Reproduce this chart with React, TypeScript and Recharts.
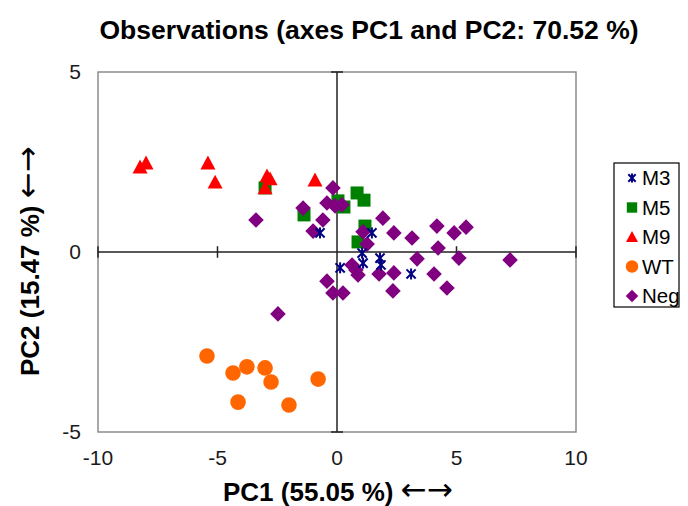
import React from 'react';
import { ScatterChart, Scatter, XAxis, YAxis, ReferenceLine, ReferenceArea } from 'recharts';

const FONT = '"Liberation Sans", Arial, Helvetica, sans-serif';
const ARROW_FONT = '"DejaVu Sans", sans-serif';

// ---- data (PC1, PC2) ----
const m3Points: [number, number][] = [
  [-0.71, 0.53], [1.46, 0.53], [1.05, -0.03], [1.09, -0.31],
  [0.13, -0.44], [1.8, -0.17], [1.84, -0.36], [3.1, -0.61],
];
const m5Points: [number, number][] = [
  [-3.01, 1.78], [-1.38, 1.03], [0.04, 1.42], [0.29, 1.25],
  [0.84, 1.64], [1.13, 1.44], [1.17, 0.72], [0.88, 0.28],
];
const m9Points: [number, number][] = [
  [-8.24, 2.36], [-7.99, 2.47], [-5.4, 2.47], [-5.1, 1.94],
  [-2.93, 2.11], [-2.8, 2.03], [-3.01, 1.78], [-0.92, 2.0],
];
const wtPoints: [number, number][] = [
  [-5.44, -2.89], [-4.35, -3.36], [-3.77, -3.19], [-3.01, -3.22],
  [-2.76, -3.61], [-4.14, -4.17], [-2.01, -4.25], [-0.79, -3.53],
];
const negPoints: [number, number][] = [
  [-3.39, 0.89], [-2.47, -1.72], [-0.17, 1.78], [-1.42, 1.22], [-0.42, 1.36],
  [-0.08, 1.28], [0.21, 1.31], [-0.59, 0.89], [-1.0, 0.58], [1.09, 0.56],
  [1.26, 0.22], [1.92, 0.94], [2.38, 0.53], [3.14, 0.39], [4.18, 0.72],
  [4.9, 0.53], [5.4, 0.69], [4.23, 0.11], [5.1, -0.17], [7.24, -0.22],
  [3.35, -0.19], [0.63, -0.36], [0.79, -0.5], [0.88, -0.64], [1.76, -0.61],
  [2.38, -0.58], [-0.42, -0.81], [-0.17, -1.14], [0.25, -1.14], [2.34, -1.08],
  [4.06, -0.61], [4.6, -1.0],
];

const xTicks = [-10, -5, 0, 5, 10];
const yTicks = [-5, 0, 5];
const seriesNames = ['M3', 'M5', 'M9', 'WT', 'Neg'];

const title = 'Observations (axes PC1 and PC2: 70.52 %)';
const xLabel = 'PC1 (55.05 %)';
const yLabel = 'PC2 (15.47 %)';
const arrow = '\u2190\u2192';

const COLORS: Record<string, string> = {
  M3: '#000080',
  M5: '#008000',
  M9: '#FF0000',
  WT: '#FF6600',
  Neg: '#800080',
};

const toXY = (pts: [number, number][]) => pts.map(([x, y]) => ({ x, y }));

// ---- marker shapes ----
function Marker({ name, cx, cy, s = 1 }: { name: string; cx: number; cy: number; s?: number }) {
  const c = COLORS[name];
  if (name === 'M3') {
    const r = 5.5 * s;
    const d = 4.6 * s;
    return (
      <g stroke={c} strokeWidth={2} strokeLinecap="butt">
        <line x1={cx} y1={cy - r} x2={cx} y2={cy + r} />
        <line x1={cx - d} y1={cy - d} x2={cx + d} y2={cy + d} />
        <line x1={cx - d} y1={cy + d} x2={cx + d} y2={cy - d} />
      </g>
    );
  }
  if (name === 'M5') {
    const h = 6.5 * s;
    return <rect x={cx - h} y={cy - h} width={2 * h} height={2 * h} fill={c} />;
  }
  if (name === 'M9') {
    const h = 7.5 * s;
    return (
      <polygon
        points={`${cx},${cy - h} ${cx + h},${cy + h * 0.85} ${cx - h},${cy + h * 0.85}`}
        fill={c}
      />
    );
  }
  if (name === 'WT') {
    return <circle cx={cx} cy={cy} r={7.8 * s} fill={c} />;
  }
  const h = 7.8 * s;
  return (
    <polygon
      points={`${cx},${cy - h} ${cx + h},${cy} ${cx},${cy + h} ${cx - h},${cy}`}
      fill={c}
    />
  );
}

const shapeFor = (name: string) => (props: any) => (
  <Marker name={name} cx={props.cx} cy={props.cy} />
);

export default function App() {
  const tickStyle = { fill: '#1a1a1a', fontSize: 21, fontFamily: FONT };
  return (
    <div
      style={{
        position: 'absolute',
        left: 0,
        top: 0,
        width: 688,
        height: 506,
        background: '#fff',
        fontFamily: FONT,
      }}
    >
      <ScatterChart
        width={688}
        height={506}
        margin={{ top: 72, right: 112, bottom: 0, left: 0 }}
      >
        <XAxis
          type="number"
          dataKey="x"
          domain={[-10, 10]}
          ticks={xTicks}
          allowDataOverflow
          axisLine={false}
          tickLine={false}
          height={74}
          tickMargin={12}
          tick={tickStyle}
        />
        <YAxis
          type="number"
          dataKey="y"
          domain={[-5, 5]}
          ticks={yTicks}
          allowDataOverflow
          axisLine={false}
          tickLine={false}
          width={98}
          tickMargin={11}
          tick={tickStyle}
        />
        <ReferenceArea
          x1={-10}
          x2={10}
          y1={-5}
          y2={5}
          fill="#fff"
          fillOpacity={0}
          stroke="#8c8c8c"
          strokeWidth={1.5}
        />
        <ReferenceLine x={0} stroke="#222" strokeWidth={1.5} />
        <ReferenceLine y={0} stroke="#222" strokeWidth={1.5} />
        {xTicks
          .filter((t) => t !== 0)
          .map((t) => (
            <ReferenceLine
              key={'xt' + t}
              segment={[{ x: t, y: -0.16 }, { x: t, y: 0.16 }]}
              stroke="#222"
              strokeWidth={1.5}
            />
          ))}
        {yTicks
          .filter((t) => t !== 0)
          .map((t) => (
            <ReferenceLine
              key={'yt' + t}
              segment={[{ x: -0.25, y: t }, { x: 0.25, y: t }]}
              stroke="#222"
              strokeWidth={1.5}
            />
          ))}
        <Scatter name="WT" data={toXY(wtPoints)} shape={shapeFor('WT')} isAnimationActive={false} />
        <Scatter name="M5" data={toXY(m5Points)} shape={shapeFor('M5')} isAnimationActive={false} />
        <Scatter name="Neg" data={toXY(negPoints)} shape={shapeFor('Neg')} isAnimationActive={false} />
        <Scatter name="M9" data={toXY(m9Points)} shape={shapeFor('M9')} isAnimationActive={false} />
        <Scatter name="M3" data={toXY(m3Points)} shape={shapeFor('M3')} isAnimationActive={false} />
      </ScatterChart>
      <svg
        width={688}
        height={506}
        style={{ position: 'absolute', left: 0, top: 0, pointerEvents: 'none' }}
      >
        <text
          x={369}
          y={38.5}
          textAnchor="middle"
          fontFamily={FONT}
          fontWeight="bold"
          fontSize={26.5}
          fill="#000"
        >
          {title}
        </text>
        <text
          x={223}
          y={501}
          textAnchor="start"
          fontFamily={FONT}
          fontWeight="bold"
          fontSize={26}
          fill="#000"
        >
          {xLabel}{' '}
          <tspan fontFamily={ARROW_FONT} fontWeight="normal" fontSize={31} dy={-1}>
            {arrow}
          </tspan>
        </text>
        <text
          x={0}
          y={0}
          transform="translate(39,376) rotate(-90)"
          textAnchor="start"
          fontFamily={FONT}
          fontWeight="bold"
          fontSize={26}
          fill="#000"
        >
          {yLabel}{' '}
          <tspan fontFamily={ARROW_FONT} fontWeight="normal" fontSize={31} dy={-1}>
            {arrow}
          </tspan>
        </text>
        <rect x={614} y={163} width={65} height={144} fill="#fff" stroke="#000" strokeWidth={1.2} />
        {seriesNames.map((n, i) => {
          const cy = 178 + i * 29.5;
          return (
            <g key={n}>
              <Marker name={n} cx={632} cy={cy} s={0.8} />
              <text
                x={642}
                y={cy + 7.3}
                fontFamily={FONT}
                fontSize={20.5}
                fill="#000"
              >
                {n}
              </text>
            </g>
          );
        })}
      </svg>
    </div>
  );
}
